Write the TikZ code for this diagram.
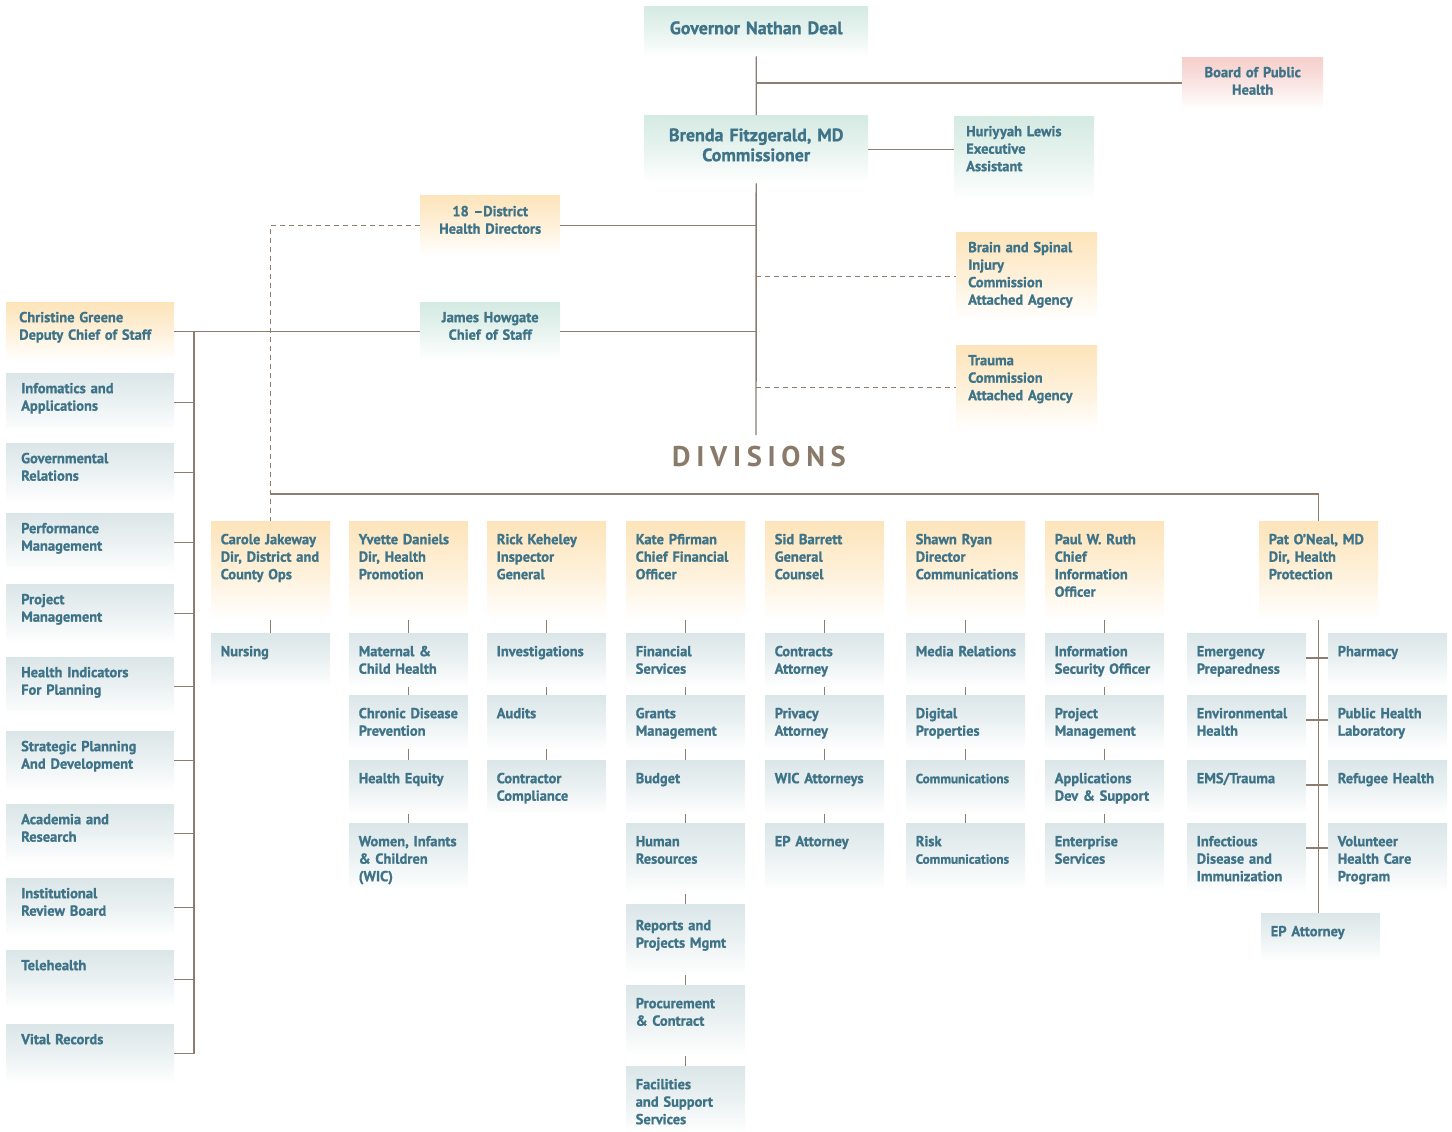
\documentclass[tikz,border=0pt]{standalone}
\usepackage{fontspec}
\setmainfont{PT Sans}[BoldFeatures={FakeBold=1}]
\newfontfamily\divisionfont[LetterSpace=20]{PT Sans}

\definecolor{peach}{RGB}{253,228,186}
\definecolor{mint}{RGB}{212,234,226}
\definecolor{mist}{RGB}{219,230,232}
\definecolor{blush}{RGB}{245,207,203}
\definecolor{ink}{RGB}{62,115,136}
\definecolor{linebrown}{RGB}{140,125,110}
\definecolor{divbrown}{RGB}{138,122,106}

\newcommand{\unitfont}{\fontsize{14.5}{17.5}\selectfont\bfseries\hyphenpenalty=10000\relax}
\newcommand{\leadfont}{\fontsize{18}{20}\selectfont\bfseries}
\newcommand{\minifont}{\fontsize{13.2}{15}\selectfont}

\begin{document}
\begin{tikzpicture}[
  x=1pt, y=-1pt,
  every node/.style={rectangle, anchor=north west, inner ysep=0pt, text=ink, font=\unitfont},
  wash/.style={top color=#1, bottom color=white, middle color=#1!55!white},
  topbox/.style={align=center, inner xsep=10pt},
  sidebox/.style={align=left, inner xsep=12pt, text width=116pt},
  staffbox/.style={wash=mist, align=left, inner xsep=15pt, text width=138pt, text height=20pt, text depth=39pt},
  divhead/.style={wash=peach, align=left, inner xsep=9.5pt, text width=100pt, text height=23pt, text depth=76pt},
  divunit/.style={wash=mist, align=left, inner xsep=9.5pt, text width=100pt, text height=23pt, text depth=31pt},
  tall/.style={text depth=44pt},
  taller/.style={text depth=48pt},
  link/.style={draw=linebrown, line width=1.4pt},
  dlink/.style={link, dash pattern=on 5pt off 4pt},
  divlabel/.style={anchor=center, inner sep=0pt, text=divbrown, font={\divisionfont\fontsize{28.5}{32}\selectfont\bfseries}},
]
\useasboundingbox (0,0) rectangle (1452,1132);

% governor, commissioner and the office around them
\node[topbox, wash=mint, font=\leadfont, text width=204pt, text height=28pt, text depth=22pt] (gov) at (644,6) {Governor Nathan Deal};
\node[topbox, wash=blush, text width=121pt, text height=20pt, text depth=32pt] (board) at (1182,57) {Board of Public\\Health};
\node[topbox, wash=mint, font=\leadfont, text width=204pt, text height=26pt, text depth=42pt] (comm) at (644,115) {Brenda Fitzgerald, MD\\Commissioner};
\node[sidebox, wash=mint, text height=20pt, text depth=64pt] (assist) at (954,116) {Huriyyah Lewis\\Executive\\Assistant};
\node[topbox, wash=peach, text width=120pt, text height=21pt, text depth=39pt] (dist) at (420,195) {18 –District\\Health Directors};
\node[sidebox, wash=peach, text width=117pt, text height=20pt, text depth=68pt] (brain) at (956,232) {Brain and Spinal\\Injury\\Commission\\Attached Agency};
\node[topbox, wash=mint, text width=120pt, text height=20pt, text depth=38pt] (cos) at (420,302) {James Howgate\\Chief of Staff};
\node[sidebox, wash=peach, text width=142pt, inner xsep=13pt, text height=20pt, text depth=38pt] (dcos) at (6,302) {Christine Greene\\Deputy Chief of Staff};
\node[sidebox, wash=peach, text width=117pt, text height=20pt, text depth=65pt] (trauma) at (956,345) {Trauma\\Commission\\Attached Agency};
\node[divlabel] (div) at (759,457) {DIVISIONS};

% deputy chief of staff column
\node[staffbox] (info)   at (6,373)  {Infomatics and\\Applications};
\node[staffbox] (govrel) at (6,443)  {Governmental\\Relations};
\node[staffbox] (perf)   at (6,513)  {Performance\\Management};
\node[staffbox] (projm)  at (6,584)  {Project\\Management};
\node[staffbox] (indic)  at (6,657)  {Health Indicators\\For Planning};
\node[staffbox] (strat)  at (6,731)  {Strategic Planning\\And Development};
\node[staffbox] (acad)   at (6,804)  {Academia and\\Research};
\node[staffbox] (irb)    at (6,878)  {Institutional\\Review Board};
\node[staffbox] (tele)   at (6,950)  {Telehealth};
\node[staffbox] (vital)  at (6,1024) {Vital Records};

% division heads
\node[divhead] (carole) at (211,521)  {Carole~Jakeway\\Dir,~District~and\\County Ops};
\node[divhead] (yvette) at (349,521)  {Yvette~Daniels\\Dir, Health\\Promotion};
\node[divhead] (rick)   at (487,521)  {Rick Keheley\\Inspector\\General};
\node[divhead] (kate)   at (626,521)  {Kate Pfirman\\Chief~Financial\\Officer};
\node[divhead] (sid)    at (765,521)  {Sid Barrett\\General\\Counsel};
\node[divhead] (shawn)  at (906,521)  {Shawn Ryan\\Director\\Communications};
\node[divhead] (paul)   at (1045,521) {Paul W. Ruth\\Chief\\Information\\Officer};
\node[divhead] (pat)    at (1259,521) {Pat~O’Neal,~MD\\Dir, Health\\Protection};

% units under each division
\node[divunit] (nurse) at (211,633) {Nursing};

\node[divunit] (mch)    at (349,633) {Maternal \&\\Child Health};
\node[divunit] (cdp)    at (349,695) {Chronic~Disease\\Prevention};
\node[divunit] (equity) at (349,760) {Health~Equity};
\node[divunit, tall] (wic) at (349,823) {Women,~Infants\\\& Children\\(WIC)};

\node[divunit] (invest) at (487,633) {Investigations};
\node[divunit] (audit)  at (487,695) {Audits};
\node[divunit] (comply) at (487,760) {Contractor\\Compliance};

\node[divunit] (fin)    at (626,633) {Financial\\Services};
\node[divunit] (grants) at (626,695) {Grants\\Management};
\node[divunit] (budget) at (626,760) {Budget};
\node[divunit, taller] (hr)      at (626,823)  {Human\\Resources};
\node[divunit, taller, text height=26pt, text depth=45pt] (reports) at (626,904) {Reports~and\\Projects~Mgmt};
\node[divunit, taller] (procure) at (626,985)  {Procurement\\\& Contract};
\node[divunit, tall]   (facil)   at (626,1066) {Facilities\\and~Support\\Services};

\node[divunit] (contr)  at (765,633) {Contracts\\Attorney};
\node[divunit] (priv)   at (765,695) {Privacy\\Attorney};
\node[divunit] (wicatt) at (765,760) {WIC~Attorneys};
\node[divunit, tall] (epsid) at (765,823) {EP Attorney};

\node[divunit] (media)   at (906,633) {Media~Relations};
\node[divunit] (digital) at (906,695) {Digital\\Properties};
\node[divunit] (comms)   at (906,760) {\minifont Communications};
\node[divunit, tall] (risk) at (906,823) {Risk\\{\minifont Communications}};

\node[divunit] (infosec) at (1045,633) {Information\\Security~Officer};
\node[divunit] (projp)   at (1045,695) {Project\\Management};
\node[divunit] (apps)    at (1045,760) {Applications\\Dev~\&~Support};
\node[divunit, tall] (enter) at (1045,823) {Enterprise\\Services};

\node[divunit] (emerg)  at (1187,633) {Emergency\\Preparedness};
\node[divunit] (envh)   at (1187,695) {Environmental\\Health};
\node[divunit] (ems)    at (1187,760) {EMS/Trauma};
\node[divunit, taller] (infect) at (1187,823) {Infectious\\Disease~and\\Immunization};
\node[divunit] (pharm)  at (1328,633) {Pharmacy};
\node[divunit] (phlab)  at (1328,695) {Public~Health\\Laboratory};
\node[divunit] (refug)  at (1328,760) {Refugee~Health};
\node[divunit, taller] (volun) at (1328,823) {Volunteer\\Health~Care\\Program};
\node[divunit, text depth=25pt] (epat) at (1261,913) {EP Attorney};

% connectors
\coordinate (divtop) at (756,435);
\coordinate (lspine) at (194,331);
\coordinate (bus) at (268,494);
\draw[link] (gov.south) -- (comm.north) (comm.south) -- (divtop);
\draw[link] (gov.south |- board.west) -- (board.west);
\draw[link] (comm.east) -- (comm.east -| assist.west);
\draw[link] (dist.east) -- (dist.east -| divtop);
\draw[link] (cos.east) -- (cos.east -| divtop);
\draw[dlink] (brain.west -| divtop) -- (brain.west);
\draw[dlink] (trauma.west -| divtop) -- (trauma.west);
\draw[dlink] (dist.west) -| (carole.north);
\draw[link] (dcos.east) -- (cos.west);
\draw[link] (carole.north |- bus) -| (pat.north);

% left spine
\draw[link] (lspine) -- (lspine |- vital.east);
\draw[link] (info.east) -- (info.east -| lspine) (govrel.east) -- (govrel.east -| lspine);
\draw[link] (perf.east) -- (perf.east -| lspine) (projm.east) -- (projm.east -| lspine);
\draw[link] (indic.east) -- (indic.east -| lspine) (strat.east) -- (strat.east -| lspine);
\draw[link] (acad.east) -- (acad.east -| lspine) (irb.east) -- (irb.east -| lspine);
\draw[link] (tele.east) -- (tele.east -| lspine) (vital.east) -- (vital.east -| lspine);

% division columns
\draw[link] (carole.south) -- (nurse.north);
\draw[link] (yvette.south) -- (mch.north) (mch.south) -- (cdp.north) (cdp.south) -- (equity.north) (equity.south) -- (wic.north);
\draw[link] (rick.south) -- (invest.north) (invest.south) -- (audit.north) (audit.south) -- (comply.north);
\draw[link] (kate.south) -- (fin.north) (fin.south) -- (grants.north) (grants.south) -- (budget.north) (budget.south) -- (hr.north);
\draw[link] (hr.south) -- (reports.north) (reports.south) -- (procure.north) (procure.south) -- (facil.north);
\draw[link] (sid.south) -- (contr.north) (contr.south) -- (priv.north) (priv.south) -- (wicatt.north) (wicatt.south) -- (epsid.north);
\draw[link] (shawn.south) -- (media.north) (media.south) -- (digital.north) (digital.south) -- (comms.north) (comms.south) -- (risk.north);
\draw[link] (paul.south) -- (infosec.north) (infosec.south) -- (projp.north) (projp.south) -- (apps.north) (apps.south) -- (enter.north);

% health protection spine
\draw[link] (pat.south) -- (pat.south |- epat.north);
\draw[link] ([yshift=-25pt]emerg.north east) -- ([yshift=-25pt]pharm.north west);
\draw[link] ([yshift=-25pt]envh.north east) -- ([yshift=-25pt]phlab.north west);
\draw[link] ([yshift=-25pt]ems.north east) -- ([yshift=-25pt]refug.north west);
\draw[link] ([yshift=-25pt]infect.north east) -- ([yshift=-25pt]volun.north west);
\end{tikzpicture}
\end{document}
